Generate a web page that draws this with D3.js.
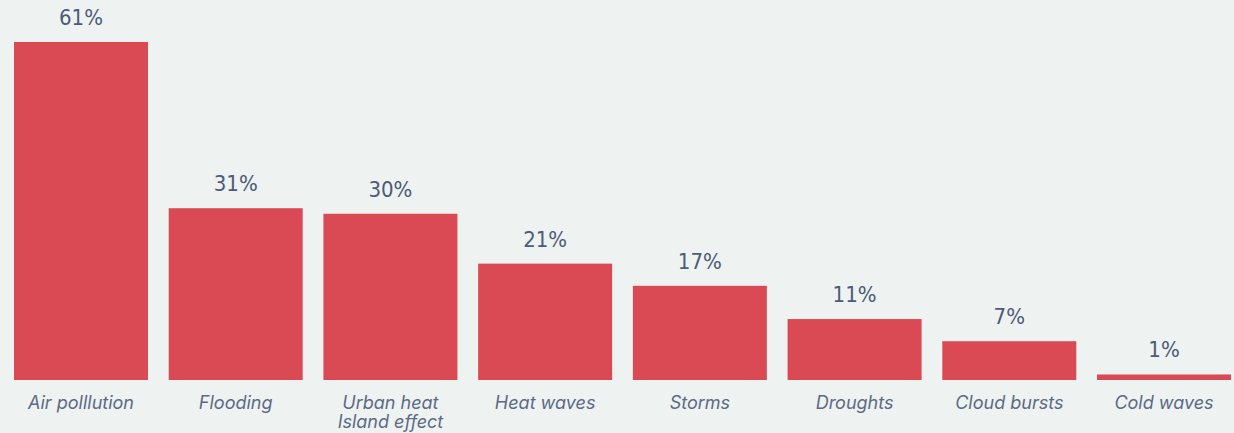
<!DOCTYPE html>
<html>
<head>
<meta charset="utf-8">
<script src="https://cdn.jsdelivr.net/npm/d3@7"></script>
<style>
  html, body { margin: 0; padding: 0; background: #eef2f1; }
  svg { display: block; }
  .val { font-family: 'Liberation Sans Narrow', 'DejaVu Sans Condensed', 'Roboto', sans-serif; font-size: 22px; fill: #4b5b78; }
  .cat { font-family: 'Inter', 'Noto Sans', sans-serif; font-style: italic; font-size: 18px; fill: #5b6a86; }
</style>
</head>
<body>
<div id="chart"></div>
<script>
// chart data
const categories = ['Air polllution', 'Flooding', 'Urban heat|Island effect', 'Heat waves', 'Storms', 'Droughts', 'Cloud bursts', 'Cold waves']
const values = [61, 31, 30, 21, 17, 11, 7, 1]

const width = 1234
const height = 433
const barColor = '#d94a54'

const svg = d3.select('#chart').append('svg')
  .attr('width', width)
  .attr('height', height)

svg.append('rect')
  .attr('width', width)
  .attr('height', height)
  .attr('fill', '#eef2f1')

const x = d3.scaleBand()
  .domain(categories)
  .range([14, 1231])
  .paddingInner(0.134)
  .paddingOuter(0)

const y = d3.scaleLinear()
  .domain([0, 61])
  .range([380, 42])

const data = categories.map(function (c, i) { return { cat: c, val: values[i] } })

// bars
svg.selectAll('rect.bar')
  .data(data)
  .enter().append('rect')
  .attr('class', 'bar')
  .attr('x', function (d) { return x(d.cat) })
  .attr('y', function (d) { return y(d.val) })
  .attr('width', x.bandwidth())
  .attr('height', function (d) { return y(0) - y(d.val) })
  .attr('fill', barColor)

// value labels
svg.selectAll('text.val')
  .data(data)
  .enter().append('text')
  .attr('class', 'val')
  .attr('text-anchor', 'middle')
  .attr('x', function (d) { return x(d.cat) + x.bandwidth() / 2 })
  .attr('y', function (d) { return y(d.val) - 17 })
  .text(function (d) { return d.val + '%' })

// category labels (| = line break)
const cats = svg.selectAll('text.cat')
  .data(data)
  .enter().append('text')
  .attr('class', 'cat')
  .attr('text-anchor', 'middle')
  .attr('x', function (d) { return x(d.cat) + x.bandwidth() / 2 })
  .attr('y', 409)

cats.selectAll('tspan')
  .data(function (d) { return d.cat.split('|').map(function (t) { return { t: t, cx: x(d.cat) + x.bandwidth() / 2 } }) })
  .enter().append('tspan')
  .attr('x', function (d) { return d.cx })
  .attr('dy', function (d, i) { return i === 0 ? 0 : 19 })
  .text(function (d) { return d.t })
</script>
</body>
</html>
